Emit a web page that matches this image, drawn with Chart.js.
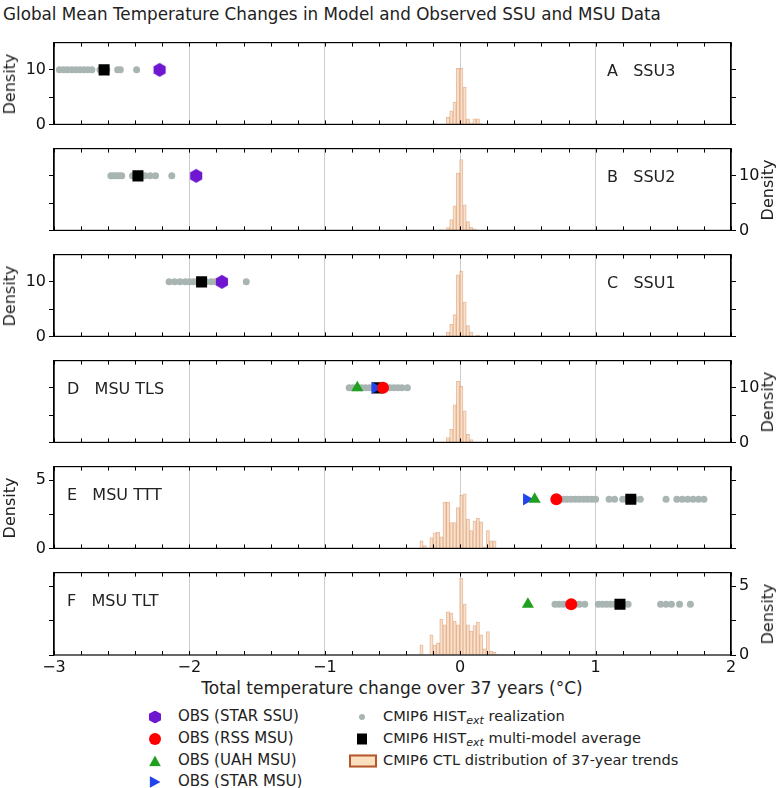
<!DOCTYPE html>
<html>
<head>
<meta charset="utf-8">
<script src="https://cdn.jsdelivr.net/npm/chart.js@4.4.1/dist/chart.umd.min.js"></script>
<style>
  body { margin:0; background:#fff; width:780px; height:788px; position:relative; overflow:hidden;
         font-family:"DejaVu Sans", sans-serif; color:#222; }
  canvas { position:absolute; left:0; }
  .t { position:absolute; white-space:pre; line-height:1; }
  .mk { position:absolute; transform:translate(-50%,-50%); }
  sub { font-size:11px; vertical-align:-3px; }
</style>
</head>
<body>
<div class="t" style="left:3px;top:6px;font-size:16.8px;">Global Mean Temperature Changes in Model and Observed SSU and MSU Data</div>
<div class="t" id="xtitle" style="left:392px;top:680px;font-size:17px;transform:translateX(-50%);">Total temperature change over 37 years (°C)</div>

<div id="legend">
  <div class="mk" style="left:155px;top:717px;width:12px;height:13px;background:#6f16d1;clip-path:polygon(50% 0,100% 25%,100% 75%,50% 100%,0 75%,0 25%);"></div>
  <div class="mk" style="left:155px;top:739px;width:12px;height:12px;background:#ff0000;border-radius:50%;"></div>
  <div class="mk" style="left:155px;top:761px;width:12px;height:11px;background:#1fa01f;clip-path:polygon(50% 0,100% 100%,0 100%);"></div>
  <div class="mk" style="left:155px;top:782px;width:11px;height:12px;background:#2244ee;clip-path:polygon(0 0,100% 50%,0 100%);"></div>
  <div class="t" style="left:178px;top:709px;font-size:15px;">OBS (STAR SSU)</div>
  <div class="t" style="left:178px;top:731px;font-size:15px;">OBS (RSS MSU)</div>
  <div class="t" style="left:178px;top:753px;font-size:15px;">OBS (UAH MSU)</div>
  <div class="t" style="left:178px;top:774px;font-size:15px;">OBS (STAR MSU)</div>

  <div class="mk" style="left:362px;top:717px;width:6px;height:6px;background:#a8b5b2;border-radius:50%;"></div>
  <div class="mk" style="left:362px;top:739px;width:10px;height:11px;background:#000;"></div>
  <div class="mk" style="left:363px;top:761px;width:24px;height:9px;background:#fbe0c0;border:2px solid #b5572c;"></div>
  <div class="t" style="left:383px;top:709px;font-size:14.6px;">CMIP6 HIST<sub><i>ext</i></sub> realization</div>
  <div class="t" style="left:383px;top:731px;font-size:14.6px;">CMIP6 HIST<sub><i>ext</i></sub> multi-model average</div>
  <div class="t" style="left:383px;top:753px;font-size:14.6px;">CMIP6 CTL distribution of 37-year trends</div>
</div>

<script>
// centres des classes de l'histogramme CTL (meme grille pour les 6 panneaux)
const binCenters = [-0.286, -0.2615, -0.237, -0.2125, -0.188, -0.1635, -0.139, -0.1145, -0.09, -0.0655, -0.041, -0.0165,
                    0.008, 0.0325, 0.057, 0.0815, 0.106, 0.1305, 0.155, 0.1795, 0.204, 0.2285, 0.253];

// densites
const densA = [0,0,0,0,0.15,0,0,0,1.3,2.5,4.1,10.3,10.3,6.8,1.0,0.3,1.0,1.0,0.1,0,0,0,0];
const densB = [0,0,0,0,0,0,0.15,0,0.5,2.0,4.5,10.5,13.0,4.7,1.6,0.6,0.3,0,0,0,0,0,0];
const densC = [0,0,0,0,0,0,0,0,0.8,2.2,4.0,11.3,12.0,6.3,2.0,0.8,0,0.2,0,0,0,0,0];
const densD = [0,0,0,0,0,0,0,0,0.9,2.4,6.9,11.2,10.3,5.8,1.5,0.5,0,0,0,0,0,0,0];
const densE = [0.55,0.2,0,0.8,1.15,1.2,0.85,3.4,3.4,1.9,1.9,3.0,3.9,4.0,2.15,1.3,2.0,2.2,1.95,0.1,1.3,0.55,0.55];
const densF = [0.72,0,0,1.47,0.72,0.88,2.6,2.2,3.15,3.05,2.45,2.2,5.6,3.7,2.2,1.75,2.15,2.4,1.47,0.45,1.7,0.27,0.2];

// realisations HIST_ext (x, degC)
const realA = [-2.96,-2.93,-2.9,-2.87,-2.84,-2.81,-2.78,-2.75,-2.72,-2.66,-2.61,-2.53,-2.51,-2.39];
const realB = [-2.58,-2.56,-2.54,-2.52,-2.5,-2.42,-2.39,-2.36,-2.33,-2.29,-2.25,-2.13];
const realC = [-2.15,-2.11,-2.07,-2.03,-2.0,-1.97,-1.94,-1.88,-1.84,-1.81,-1.58];
const realD = [-0.82,-0.79,-0.76,-0.73,-0.7,-0.67,-0.64,-0.6,-0.55,-0.52,-0.49,-0.46,-0.43,-0.39];
const realE = [0.76,0.79,0.82,0.85,0.88,0.91,0.94,0.97,1.0,1.1,1.14,1.2,1.23,1.29,1.33,1.52,1.6,1.64,1.68,1.72,1.76,1.8];
const realF = [0.7,0.73,0.76,0.79,0.85,0.88,0.92,1.02,1.05,1.08,1.11,1.14,1.21,1.24,1.48,1.52,1.56,1.62,1.7];

// moyennes multi-modeles et observations (null = absent)
const avgVals     = [-2.63, -2.38, -1.91, -0.61, 1.26, 1.18];
const starSsuVals = [-2.22, -1.95, -1.76, null, null, null];
const rssVals     = [null, null, null, -0.57, 0.71, 0.82];
const uahVals     = [null, null, null, -0.76, 0.55, 0.50];
const starMsuVals = [null, null, null, -0.63, 0.49, null];
const dotLevels   = [10, 10, 10, 10, 3.6, 3.7];

// axes
const panelNames  = ['A   SSU3', 'B   SSU2', 'C   SSU1', 'D   MSU TLS', 'E   MSU TTT', 'F   MSU TLT'];
const xTickVals   = [-3, -2, -1, 0, 1, 2];
const yMaxVals    = [15, 15, 15, 15, 6, 6];
const yTicksBig   = [0, 5, 10];
const yLabelsBig  = [0, 10];
const yTicksSmall = [0, 2.5, 5];
const yLabelsSmall= [0, 5];

const dens = [densA, densB, densC, densD, densE, densF];
const reals = [realA, realB, realC, realD, realE, realF];

const PT = [42, 148, 254, 360, 466, 572]; // haut de chaque panneau
const PH = 83;
const PAD = 12;
const tickFont = { family: 'DejaVu Sans', size: 16 };

function hexImg(r, color) {
    const c = document.createElement('canvas');
    c.width = 2 * r + 2; c.height = 2 * r + 2;
    const g = c.getContext('2d');
    g.fillStyle = color;
    g.beginPath();
    for (let i = 0; i < 6; i++) {
        const a = Math.PI / 3 * i - Math.PI / 2;
        g.lineTo(r + 1 + r * Math.cos(a), r + 1 + r * Math.sin(a));
    }
    g.closePath(); g.fill();
    return c;
}
const hexPurple = hexImg(7, '#6f16d1');

//cadre + petits ticks x vers l'interieur
const framePlugin = {
    id: 'frame',
    afterDatasetsDraw(chart) {
        const { ctx, chartArea: a, scales: { x } } = chart;
        ctx.save();
        ctx.strokeStyle = '#000';
        ctx.lineWidth = 1.2;
        ctx.strokeRect(a.left, a.top, a.right - a.left, a.bottom - a.top);
        ctx.lineWidth = 1;
        ctx.beginPath();
        for (let k = 0; k <= 25; k++) {
            const px = Math.round(x.getPixelForValue(-3 + k * 0.2)) + 0.5;
            ctx.moveTo(px, a.top); ctx.lineTo(px, a.top + 4);
            ctx.moveTo(px, a.bottom); ctx.lineTo(px, a.bottom - 4);
        }
        ctx.stroke();
        ctx.restore();
    }
};

function addText(txt, left, top, size, rotate) {
    const d = document.createElement('div');
    d.className = 't';
    d.textContent = txt;
    d.style.left = left + 'px';
    d.style.top = top + 'px';
    d.style.fontSize = size + 'px';
    d.style.transform = rotate ? 'translate(-50%,-50%) rotate(-90deg)' : 'translateY(-50%)';
    document.body.appendChild(d);
}

for (let i = 0; i < 6; i++) {
    const last = i === 5;
    const labelLeft = (i === 0 || i === 2 || i === 4);
    const small = i >= 4;
    const tickVals = small ? yTicksSmall : yTicksBig;
    const labVals = small ? yLabelsSmall : yLabelsBig;

    const cv = document.createElement('canvas');
    const h = PAD + PH + (last ? 30 : PAD);
    cv.width = 780; cv.height = h;
    cv.style.top = (PT[i] - PAD) + 'px';
    document.body.appendChild(cv);

    const yAxis = (pos, showLab) => ({
        position: pos, min: 0, max: yMaxVals[i],
        afterBuildTicks: s => { s.ticks = tickVals.map(v => ({ value: v })); },
        afterFit: s => { s.width = pos === 'left' ? 54 : 49; },
        ticks: {
            font: tickFont, color: '#111', padding: 3,
            callback: v => (showLab && labVals.includes(v)) ? String(v) : ''
        },
        grid: { drawOnChartArea: false, drawTicks: true, tickLength: 5, color: '#000', lineWidth: 1 },
        border: { display: true, color: '#000', width: 1.2 }
    });

    const hist = binCenters.map((c, k) => ({ x: c, y: dens[i][k] })).filter(p => p.y > 0);
    const lvl = dotLevels[i];
    const pt = v => (v === null ? [] : [{ x: v, y: lvl }]);

    // chart.js dessine le 1er dataset au-dessus -> ordre du haut vers le bas
    const datasets = [
        { type: 'scatter', data: pt(starSsuVals[i]), pointStyle: hexPurple, radius: 7,
          backgroundColor: '#6f16d1', borderWidth: 0 },
        { type: 'scatter', data: pt(rssVals[i]), pointStyle: 'circle', radius: 6,
          backgroundColor: '#ff0000', borderWidth: 0 },
        { type: 'scatter', data: pt(uahVals[i]), pointStyle: 'triangle', radius: 7,
          backgroundColor: '#1fa01f', borderWidth: 0 },
        { type: 'scatter', data: pt(starMsuVals[i]), pointStyle: 'triangle', rotation: 90, radius: 7,
          backgroundColor: '#2244ee', borderWidth: 0 },
        { type: 'scatter', data: pt(avgVals[i]), pointStyle: 'rect', radius: 7.8,
          backgroundColor: '#000', borderWidth: 0 },
        { type: 'scatter', data: reals[i].map(v => ({ x: v, y: lvl })), pointStyle: 'circle', radius: 3.5,
          backgroundColor: '#a8b5b2', borderWidth: 0 },
        { type: 'bar', data: hist, backgroundColor: 'rgba(252,224,196,0.7)',
          borderColor: 'rgba(214,138,90,0.55)', borderWidth: 1, barPercentage: 1, categoryPercentage: 1 }
    ];

    new Chart(cv.getContext('2d'), {
        type: 'scatter',
        data: { datasets },
        options: {
            responsive: false, animation: false, devicePixelRatio: 1,
            layout: { padding: { top: PAD, bottom: last ? 0 : PAD, left: 0, right: 0 } },
            plugins: { legend: { display: false }, tooltip: { enabled: false } },
            events: [],
            scales: {
                x: {
                    type: 'linear', min: -3, max: 2, offset: false,
                    afterBuildTicks: s => { s.ticks = xTickVals.map(v => ({ value: v })); },
                    afterFit: s => { s.height = last ? 30 : 0; },
                    ticks: { display: last, font: { family: 'DejaVu Sans', size: 16 }, color: '#111', padding: 3,
                             maxRotation: 0, autoSkip: false,
                             callback: v => String(v).replace('-', '\u2212') },
                    grid: { offset: false, drawTicks: false, color: '#cccccc', lineWidth: 1 },
                    border: { display: false }
                },
                y: yAxis('left', labelLeft),
                y2: yAxis('right', !labelLeft)
            }
        },
        plugins: [framePlugin]
    });

    // etiquettes
    const cy = PT[i] + PH / 2;
    if (labelLeft) addText('Density', 10, cy, 16, true);
    else addText('Density', 768, cy, 16, true);
    addText(panelNames[i], i < 3 ? 607 : 67, PT[i] + 29, 16, false);
}
</script>
</body>
</html>
